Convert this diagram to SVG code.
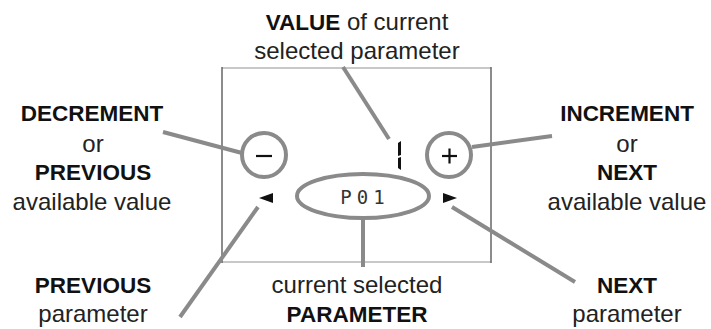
<svg xmlns="http://www.w3.org/2000/svg" width="711" height="329" viewBox="0 0 711 329">
<style>
text{font-family:"Liberation Sans","Open Sans",sans-serif;font-size:24px;fill:#222;text-anchor:middle}
.b{font-weight:bold;fill:#111;font-size:22.5px}
.ln{stroke:#8a8a8a;stroke-width:4;fill:none;stroke-linecap:butt}
.sh{stroke:#8a8a8a;stroke-width:4;fill:#fff}
</style>
<rect width="711" height="329" fill="#fff"/>
<g id="display">
<line x1="222" y1="68" x2="491" y2="68" stroke="#c8c8c8" stroke-width="2"/>
<line x1="222" y1="262" x2="491" y2="262" stroke="#c8c8c8" stroke-width="2"/>
<line x1="222" y1="67" x2="222" y2="263" stroke="#666" stroke-width="1.5"/>
<line x1="491" y1="67" x2="491" y2="263" stroke="#666" stroke-width="1.5"/>
</g>
<g id="connectors">
<line class="ln" x1="343" y1="67" x2="389" y2="139"/>
<line class="ln" x1="163" y1="132" x2="242" y2="153"/>
<line class="ln" x1="552" y1="136" x2="472" y2="147"/>
<line class="ln" x1="180" y1="317" x2="258" y2="207"/>
<line class="ln" x1="575" y1="282" x2="452" y2="207"/>
<line class="ln" x1="363" y1="216" x2="363" y2="267"/>
</g>
<g id="minus">
<circle class="sh" cx="264" cy="155" r="22"/>
<line x1="256" y1="156" x2="272" y2="156" stroke="#111" stroke-width="2.2"/>
</g>
<g id="plus">
<circle class="sh" cx="449" cy="155" r="22"/>
<line x1="442" y1="156" x2="457" y2="156" stroke="#111" stroke-width="2.2"/>
<line x1="449.5" y1="148.5" x2="449.5" y2="163.5" stroke="#111" stroke-width="2.2"/>
</g>
<g id="value">
<path d="M398 143 L401 141 L401 155 L398 156 Z M398 158 L401 157 L401 170 L398 168 Z" fill="#111"/>
</g>
<g id="param">
<ellipse class="sh" cx="363" cy="196" rx="66" ry="22"/>
<text x="365" y="204" style="font-family:'DejaVu Sans Mono',monospace;font-size:19px;fill:#333;letter-spacing:5px">P01</text>
</g>
<g id="arrows">
<polygon points="259,198 273,193 273,203" fill="#111"/>
<polygon points="457,198 443,193 443,203" fill="#111"/>
</g>
<g id="labels">
<text x="357" y="30"><tspan class="b">VALUE</tspan> of current</text>
<text x="357" y="59">selected parameter</text>
<text x="92" y="121" class="b">DECREMENT</text>
<text x="93" y="152">or</text>
<text x="93" y="180" class="b">PREVIOUS</text>
<text x="92" y="210">available value</text>
<text x="93" y="293" class="b">PREVIOUS</text>
<text x="93" y="322">parameter</text>
<text x="627" y="121" class="b">INCREMENT</text>
<text x="627" y="152">or</text>
<text x="627" y="180" class="b">NEXT</text>
<text x="627" y="210">available value</text>
<text x="627" y="293" class="b">NEXT</text>
<text x="627" y="322">parameter</text>
<text x="357" y="293">current selected</text>
<text x="357" y="322" class="b">PARAMETER</text>
</g>
</svg>
